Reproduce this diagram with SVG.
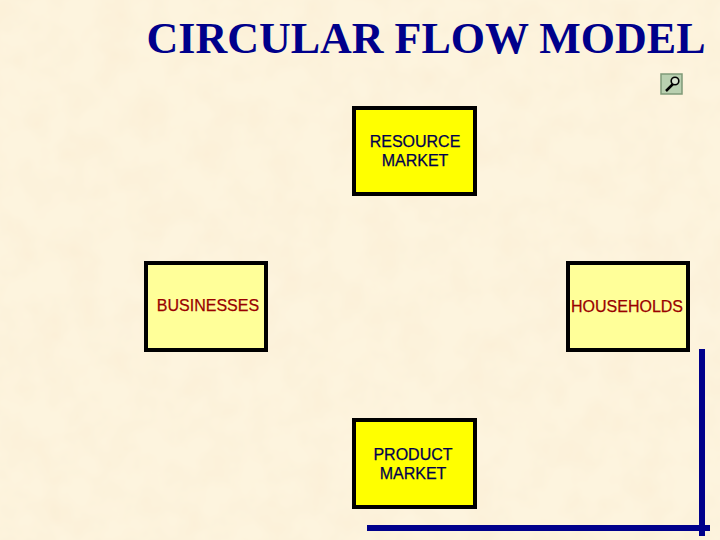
<svg xmlns="http://www.w3.org/2000/svg" width="720" height="540" viewBox="0 0 720 540">
  <style>
    .box { stroke: #000; stroke-width: 4; }
    .res { fill: #ffff00; }
    .pale { fill: #ffff99; }
    .lbl { font-family: "Liberation Sans", Arial, sans-serif; font-size: 16px; text-anchor: middle; stroke-width: 0.25; }
    .navy { fill: #000050; stroke: #000050; }
    .red { fill: #990000; stroke: #990000; }
    .flow { stroke: #00008b; stroke-width: 6; fill: none; }
  </style>
  <defs>
    <filter id="paper" x="0" y="0" width="100%" height="100%">
      <feTurbulence type="fractalNoise" baseFrequency="0.03" numOctaves="3" seed="4"/>
      <feColorMatrix type="matrix" values="0 0 0 0 0.96  0 0 0 0 0.85  0 0 0 0 0.66  1.2 0 0 0 -0.42"/>
    </filter>
  </defs>
  <rect width="720" height="540" fill="#fdf4de"/>
  <rect width="720" height="540" filter="url(#paper)"/>
  <text x="426" y="53" font-family="Liberation Serif, Times New Roman, serif" font-size="44" font-weight="bold" fill="#00008b" text-anchor="middle">CIRCULAR FLOW MODEL</text>
  <g id="magnifier">
    <rect x="661" y="74" width="21" height="20" fill="#b9d0b0" stroke="#7f9a78" stroke-width="1.5"/>
    <line x1="666" y1="91" x2="673" y2="84" stroke="#000" stroke-width="2.5"/>
    <circle cx="675" cy="81" r="3.8" fill="#d8e4d0" stroke="#000" stroke-width="1.6"/>
  </g>
  <g id="connectors">
    <line class="flow" x1="702" y1="349" x2="702" y2="536"/>
    <line class="flow" x1="367" y1="528" x2="710" y2="528"/>
  </g>
  <g id="resource-market">
    <rect class="box res" x="354" y="108" width="121" height="86"/>
    <text class="lbl navy" x="415" y="147">RESOURCE</text>
    <text class="lbl navy" x="415" y="166">MARKET</text>
  </g>
  <g id="businesses">
    <rect class="box pale" x="146" y="263" width="120" height="87"/>
    <text class="lbl red" x="208" y="311">BUSINESSES</text>
  </g>
  <g id="households">
    <rect class="box pale" x="568" y="263" width="120" height="87"/>
    <text class="lbl red" x="627" y="312">HOUSEHOLDS</text>
  </g>
  <g id="product-market">
    <rect class="box res" x="354" y="420" width="121" height="87"/>
    <text class="lbl navy" x="413" y="460">PRODUCT</text>
    <text class="lbl navy" x="413" y="479">MARKET</text>
  </g>
</svg>
